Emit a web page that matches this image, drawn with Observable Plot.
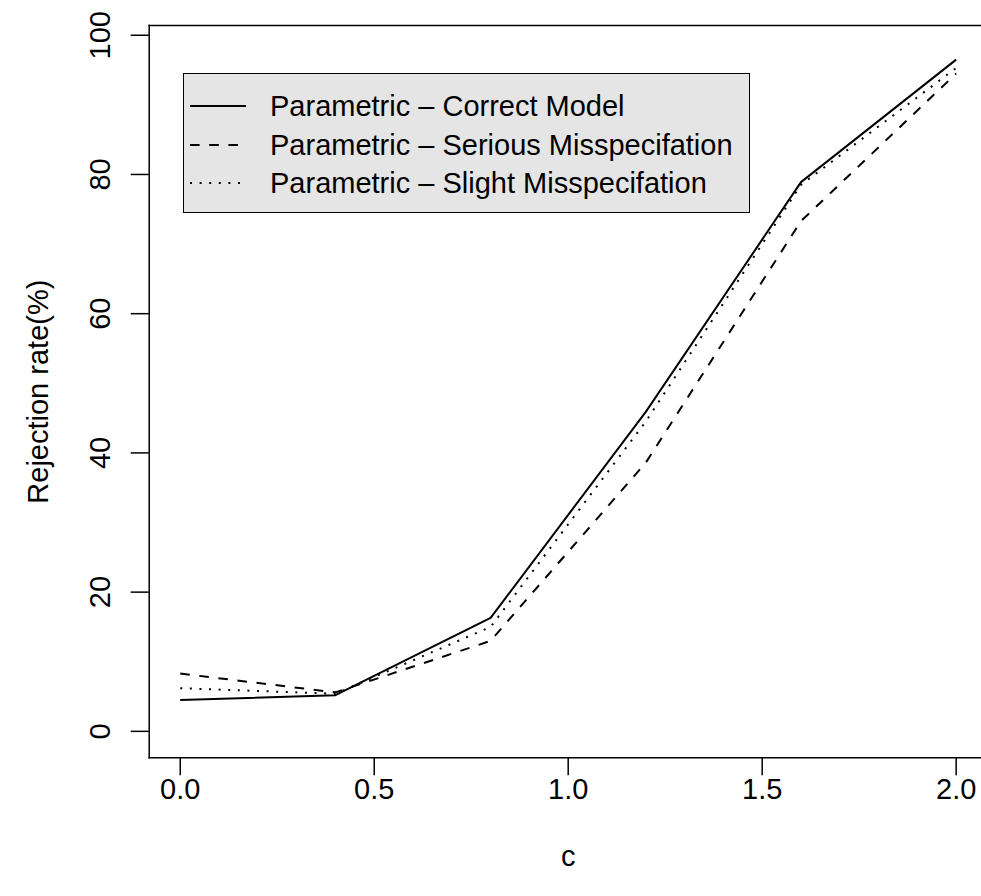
<!DOCTYPE html>
<html>
<head>
<meta charset="utf-8">
<script src="https://cdn.jsdelivr.net/npm/d3@7"></script>
<script src="https://cdn.jsdelivr.net/npm/@observablehq/plot@0.6"></script>
<style>
  html, body { margin: 0; padding: 0; background: white; overflow: hidden; }
  #wrap { position: relative; width: 981px; height: 896px; font-family: "Liberation Sans", Arial, Helvetica, sans-serif; }
  #legend { position: absolute; left: 183px; top: 73px; width: 567px; height: 140px; box-sizing: border-box;
            background: #e5e5e5; border: 1.5px solid black; }
  .row { position: absolute; left: 0; height: 0; }
  .row svg { position: absolute; left: 6px; top: -3px; }
  .row span { position: absolute; left: 86px; top: -17px; font-size: 29px; line-height: 34px; white-space: nowrap; color: black; }
</style>
</head>
<body>
<div id="wrap"></div>
<script>
// ---- data ----
const cValues = [0, 0.4, 0.8, 1.2, 1.6, 2.0];
const correctModel = [4.5, 5.2, 16.3, 45.9, 78.9, 96.5];
const seriousMisspec = [8.3, 5.6, 13.0, 38.6, 73.3, 94.5];
const slightMisspec = [6.2, 5.4, 15.0, 44.5, 78.5, 95.3];
const seriesNames = [
  "Parametric \u2013 Correct Model",
  "Parametric \u2013 Serious Misspecifation",
  "Parametric \u2013 Slight Misspecifation"
];
const xTicks = [0, 0.5, 1.0, 1.5, 2.0];
const xTickLabels = ["0.0", "0.5", "1.0", "1.5", "2.0"];
const yTicks = [0, 20, 40, 60, 80, 100];
const yTickLabels = ["0", "20", "40", "60", "80", "100"];
const xLabel = "c";
const yLabel = "Rejection rate(%)";

// ---- styles ----
const dashes = [null, "9.6 9.6", "2 7.6"];
const seriesValues = [correctModel, seriousMisspec, slightMisspec];
const rows = seriesValues.map((vals, k) => cValues.map((cv, i) => ({c: cv, v: vals[i], s: seriesNames[k]})));

const FS = 29;
const font = '"Liberation Sans", Arial, Helvetica, sans-serif';

const chart = Plot.plot({
  width: 981,
  height: 896,
  marginLeft: 148.7,
  marginRight: -5.7,
  marginTop: 25,
  marginBottom: 138.7,
  style: {fontFamily: font, fontSize: FS + "px", color: "black", background: "white"},
  x: {domain: [-0.08, 2.08]},
  y: {domain: [-3.8, 101.4]},
  marks: [
    Plot.frame({anchor: "top", stroke: "black", strokeWidth: 1.5}),
    Plot.frame({anchor: "left", stroke: "black", strokeWidth: 1.5}),
    Plot.frame({anchor: "bottom", stroke: "black", strokeWidth: 1.5}),
    Plot.axisX({
      ticks: xTicks, tickSize: 18, tickPadding: 3, strokeWidth: 1.5, label: null,
      tickFormat: d => xTickLabels[xTicks.indexOf(d)], fontSize: FS
    }),
    Plot.axisY({
      ticks: yTicks, tickSize: 18, strokeWidth: 1.5, label: null,
      tickFormat: () => ""
    }),
    Plot.text(yTicks, {
      y: d => d, frameAnchor: "left", text: (d) => yTickLabels[yTicks.indexOf(d)],
      textAnchor: "middle", lineAnchor: "middle",
      rotate: -90, dx: -48, fontSize: FS, fill: "black"
    }),
    Plot.text([yLabel], {frameAnchor: "left", text: d => d, textAnchor: "middle", lineAnchor: "middle",
      rotate: -90, dx: -110, fontSize: FS, fill: "black"}),
    Plot.text([xLabel], {frameAnchor: "bottom", text: d => d, textAnchor: "middle", lineAnchor: "middle",
      dy: 99, fontSize: FS, fill: "black"}),
    ...rows.map((r, k) => Plot.line(r, {
      x: "c", y: "v", stroke: "black", strokeWidth: 2,
      strokeDasharray: dashes[k] || undefined, strokeLinejoin: "round", strokeLinecap: "butt"
    }))
  ]
});

const wrap = document.getElementById("wrap");
wrap.appendChild(chart);

// ---- legend ----
const legend = document.createElement("div");
legend.id = "legend";
const rowTops = [32, 71, 109];
seriesNames.forEach((name, k) => {
  const row = document.createElement("div");
  row.className = "row";
  row.style.top = rowTops[k] + "px";
  const dash = dashes[k] ? ` stroke-dasharray="${dashes[k]}"` : "";
  row.innerHTML = `<svg width="60" height="6"><line x1="0" x2="56" y1="3" y2="3" stroke="black" stroke-width="2"${dash}/></svg><span>${name}</span>`;
  legend.appendChild(row);
});
wrap.appendChild(legend);
</script>
</body>
</html>
